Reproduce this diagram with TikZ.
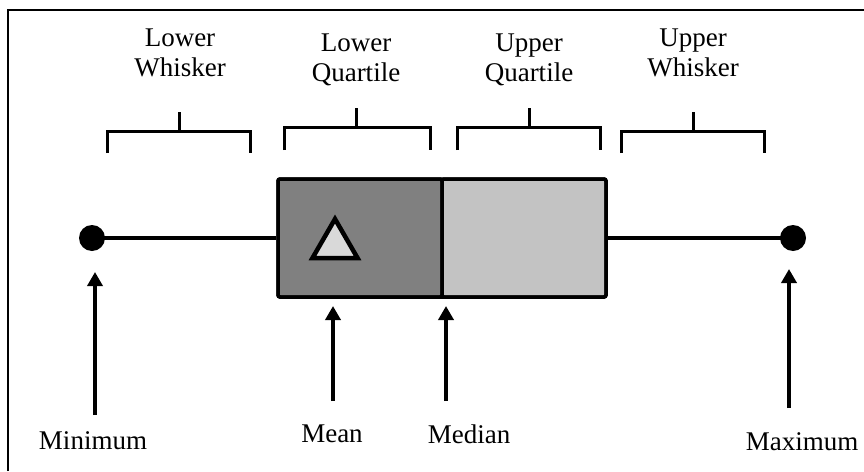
\documentclass[tikz,border=0pt]{standalone}
\usepackage{fontspec}
\setmainfont{Liberation Serif}
\usetikzlibrary{arrows.meta,shapes.geometric}
\definecolor{boxdark}{HTML}{808080}
\definecolor{boxlight}{HTML}{C3C3C3}
\definecolor{trifill}{HTML}{D9D9D9}
\begin{document}
\begin{tikzpicture}[x=1pt,y=-1pt,
  lbl/.style={align=center,inner sep=0pt,font=\fontsize{27}{30}\selectfont},
  brk/.style={line width=3pt},
  boxpart/.style={draw,line width=3.5pt,minimum width=164pt,minimum height=118pt,inner sep=0pt,rounded corners=2pt},
  whisk/.style={line width=3.5pt},
  dot/.style={circle,fill=black,minimum size=26pt,inner sep=0pt},
  arr/.style={line width=3.5pt,-{Triangle[width=15pt,length=14pt]}}]
\useasboundingbox (0,0) rectangle (864,471);
% frame
\draw[line width=2pt] (8,471) -- (8,10) -- (864,10);
% top labels
\node[lbl] (lw) at (180,53) {Lower\\Whisker};
\node[lbl] (lqt) at (356,60) {Lower\\Quartile};
\node[lbl] (uqt) at (529,60) {Upper\\Quartile};
\node[lbl] (uw) at (693,53) {Upper\\Whisker};
% brackets
\draw[brk] (107,153) -- (107,131) -- (250,131) -- (250,153);
\draw[brk] (179,131) -- (179,112);
\draw[brk] (284,150) -- (284,127) -- (430,127) -- (430,150);
\draw[brk] (356,127) -- (356,108);
\draw[brk] (457,150) -- (457,127) -- (600,127) -- (600,150);
\draw[brk] (529,127) -- (529,108);
\draw[brk] (621,153) -- (621,131) -- (764,131) -- (764,153);
\draw[brk] (693,131) -- (693,112);
% whiskers and dots
\node[dot] (min) at (92,238) {};
\node[dot] (max) at (793,238) {};
\node[boxpart,fill=boxdark] (lq) at (360,238) {};
\node[boxpart,fill=boxlight] (uq) at (524,238) {};
\draw[whisk] (min.center) -- (lq.west);
\draw[whisk] (uq.east) -- (max.center);
\node[boxpart,fill=none] (box) at (442,238) [minimum width=328pt] {};
% mean triangle
\node[regular polygon,regular polygon sides=3,draw,line width=4.5pt,fill=trifill,minimum size=52pt,inner sep=0pt] (mean) at (335,245) {};
% bottom labels
\node[lbl] (minl) at (93,441) {Minimum};
\node[lbl] (meanl) at (332,434) {Mean};
\node[lbl] (medl) at (469,434) {Median};
\node[lbl] (maxl) at (802,442) {Maximum};
% arrows
\coordinate (minA) at (95,415);
\coordinate (minB) at (95,272);
\coordinate (meanA) at (333,401);
\coordinate (meanB) at (333,306);
\coordinate (medA) at (446,401);
\coordinate (medB) at (446,306);
\coordinate (maxA) at (789,408);
\coordinate (maxB) at (789,269);
\draw[arr] (minA) -- (minB);
\draw[arr] (meanA) -- (meanB);
\draw[arr] (medA) -- (medB);
\draw[arr] (maxA) -- (maxB);
\end{tikzpicture}
\end{document}
